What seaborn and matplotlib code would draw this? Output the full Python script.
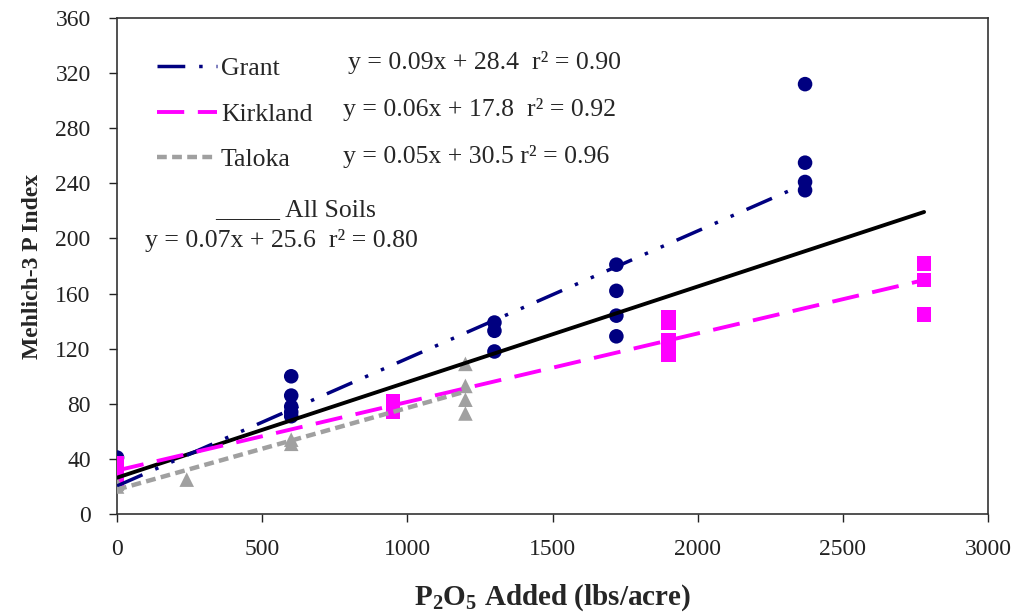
import numpy as np
import pandas as pd
import seaborn as sns
import matplotlib.pyplot as plt
from matplotlib.lines import Line2D

sns.set_style('ticks')
plt.rcParams['font.family'] = ['Liberation Serif', 'DejaVu Serif']
plt.rcParams['mathtext.default'] = 'regular'

# P2O5 added (lbs/acre) and Mehlich-3 P index
grant_x = [0, 600, 600, 600, 600, 600, 1300, 1300, 1300,
           1720, 1720, 1720, 1720, 2370, 2370, 2370, 2370]
grant_y = [41, 100, 86, 78, 74, 71, 139, 133, 118,
           181, 162, 144, 129, 312, 255, 241, 235]

kirk_x = [0, 0, 0, 0, 950, 950, 950, 1900, 1900, 1900, 1900, 2780, 2780, 2780]
kirk_y = [37, 33, 28, 24, 82, 78, 74, 143, 139, 126, 116, 182, 170, 145]

tal_x = [0, 0, 240, 600, 600, 1200, 1200, 1200, 1200]
tal_y = [22, 20, 25, 54, 51, 109, 93, 83, 73]

soils = ['Grant', 'Kirkland', 'Taloka']
equations = ['y = 0.09x + 28.4  r² = 0.90',
             'y = 0.06x + 17.8  r² = 0.92',
             'y = 0.05x + 30.5 r² = 0.96']
all_eq = 'y = 0.07x + 25.6  r² = 0.80'

df = pd.DataFrame({
    'x': grant_x + kirk_x + tal_x,
    'y': grant_y + kirk_y + tal_y,
    'soil': ['Grant'] * len(grant_x) + ['Kirkland'] * len(kirk_x) + ['Taloka'] * len(tal_x),
})

colors = {'Grant': '#000080', 'Kirkland': '#FF00FF', 'Taloka': '#A0A0A0'}
markers = {'Grant': 'o', 'Kirkland': 's', 'Taloka': '^'}
styles = {'Grant': (0, (8, 4, 1, 4, 1, 4)),
          'Kirkland': (0, (7, 3.5)),
          'Taloka': (0, (2.2, 1.2))}
widths = {'Grant': 2.5, 'Kirkland': 2.8, 'Taloka': 3.2}

fig = plt.figure(figsize=(10.16, 6.12), dpi=100)
ax = fig.add_axes([0.1152, 0.160, 0.8572, 0.8106])

for s in soils:
    d = df[df.soil == s]
    sns.scatterplot(data=d, x='x', y='y', color=colors[s], marker=markers[s],
                    s=110, edgecolor='none', ax=ax, zorder=3)

# all soils regression (solid black)
sns.regplot(data=df, x='x', y='y', scatter=False, ci=None, ax=ax,
            line_kws=dict(color='black', lw=2.8, zorder=4))

for s in soils:
    d = df[df.soil == s]
    sns.regplot(data=d, x='x', y='y', scatter=False, ci=None, ax=ax,
                line_kws=dict(color=colors[s], lw=widths[s], ls=styles[s], zorder=5))

ax.set_xlim(0, 3000)
ax.set_ylim(0, 360)
ax.set_xticks(np.arange(0, 3001, 500))
ax.set_yticks(np.arange(0, 361, 40))
ax.tick_params(axis='both', direction='out', length=6, width=1, labelsize=17, colors='#222222')
ax.tick_params(axis='y', pad=13)
ax.tick_params(axis='x', pad=12)
for sp in ax.spines.values():
    sp.set_linewidth(1.2)
    sp.set_color('#333333')

ax.set_xlabel('P$_2$O$_5$ Added (lbs/acre)', fontsize=21, fontweight='bold', labelpad=16)
ax.set_ylabel('Mehlich-3 P Index', fontsize=17, fontweight='bold', labelpad=9)

handles = [Line2D([], [], color=colors[s], lw=widths[s], ls=styles[s]) for s in soils]
ax.legend(handles, soils, loc='upper left', bbox_to_anchor=(0.019, 0.968), frameon=False,
          fontsize=18.5, handlelength=2.35, handletextpad=0.15, labelspacing=0.88)

eq_pos = [(0.265, 0.911), (0.259, 0.815), (0.259, 0.720)]
for (tx, ty), eq in zip(eq_pos, equations):
    ax.text(tx, ty, eq, transform=ax.transAxes, fontsize=18.5, va='center', ha='left')

ax.text(0.1125, 0.613, '_____ All Soils', transform=ax.transAxes, fontsize=18.5,
        va='center', ha='left')
ax.text(0.032, 0.552, all_eq, transform=ax.transAxes, fontsize=18.5, va='center', ha='left')

fig.savefig('out.png', dpi=100)
